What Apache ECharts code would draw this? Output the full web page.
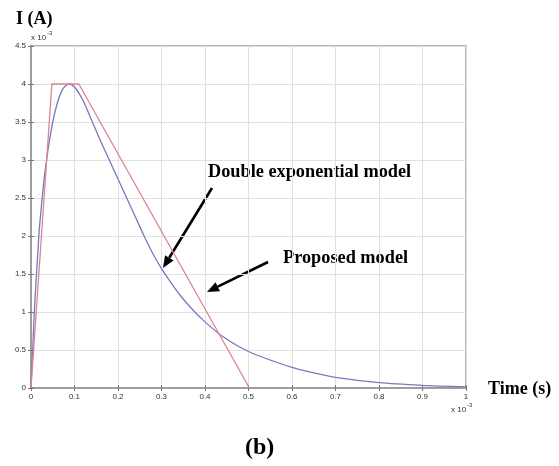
<!DOCTYPE html>
<html>
<head>
<meta charset="utf-8">
<script src="https://cdn.jsdelivr.net/npm/echarts@6/dist/echarts.min.js"></script>
<style>
  html, body { margin: 0; padding: 0; background: #fff; }
  #chart { width: 559px; height: 466px; }
</style>
</head>
<body>
<div id="chart"></div>
<script>
// time in units of 1e-3 s, current in units of 1e-3 A
var xTicks = [0, 0.1, 0.2, 0.3, 0.4, 0.5, 0.6, 0.7, 0.8, 0.9, 1];
var yTicks = [0, 0.5, 1, 1.5, 2, 2.5, 3, 3.5, 4, 4.5];

// double exponential model (blue)
var dblT = [0, 0.005, 0.0076, 0.01, 0.018, 0.02, 0.03, 0.036, 0.04, 0.05, 0.06, 0.07, 0.08, 0.09,
            0.1, 0.11, 0.12, 0.13, 0.141, 0.16, 0.18, 0.2, 0.22, 0.24, 0.26, 0.28, 0.3, 0.32, 0.34,
            0.37, 0.4, 0.44, 0.5, 0.6, 0.65, 0.7, 0.8, 0.9, 1.0];
var dblI = [0, 0.65, 1.0, 1.25, 2.0, 2.15, 2.75, 3.0, 3.17, 3.5, 3.74, 3.9, 3.98, 4.0,
            3.96, 3.88, 3.78, 3.65, 3.5, 3.25, 3.0, 2.75, 2.5, 2.25, 2.0, 1.77, 1.57, 1.4, 1.24,
            1.04, 0.87, 0.68, 0.48, 0.27, 0.2, 0.14, 0.07, 0.035, 0.015];

// proposed model (red)
var propT = [0, 0.048, 0.11, 0.502];
var propI = [0, 4, 4, 0];

function pairs(xs, ys) {
    return xs.map(function (x, i) { return [x, ys[i]]; });
}

var chart = echarts.init(document.getElementById('chart'));

var tickFont = {fontFamily: 'Liberation Sans, Arial', fontSize: 8, color: '#333'};
var labelFont = 'bold 18px "Liberation Serif", "Times New Roman", serif';
var noteFont = 'bold 18.3px "Liberation Serif", "Times New Roman", serif';

function arrow(x1, y1, x2, y2) {
    var dx = x2 - x1, dy = y2 - y1;
    var len = Math.sqrt(dx * dx + dy * dy);
    var ux = dx / len, uy = dy / len;
    var hl = 12, hw = 5;
    var bx = x2 - ux * hl, by = y2 - uy * hl;
    return [
        {type: 'line', shape: {x1: x1, y1: y1, x2: bx, y2: by},
         style: {stroke: '#000', lineWidth: 2.6}},
        {type: 'polygon', shape: {points: [[x2, y2], [bx - uy * hw, by + ux * hw], [bx + uy * hw, by - ux * hw]]},
         style: {fill: '#000'}}
    ];
}

var axisLineStyle = {lineStyle: {color: '#9a9a9a', width: 1.5}};
var tickStyle = {show: true, inside: true, length: 3, lineStyle: {color: '#777'}};
var expLabel = {
    text: '{a|x 10}{b|-3}',
    rich: {
        a: {font: '8px "Liberation Sans"', fill: '#333', verticalAlign: 'bottom'},
        b: {font: '6px "Liberation Sans"', fill: '#333', verticalAlign: 'top', padding: [0, 0, 6, 1]}
    }
};

chart.setOption({
    animation: false,
    backgroundColor: '#fff',
    grid: {left: 31, right: 93, top: 46, bottom: 78, show: true, borderColor: '#9a9a9a', borderWidth: 1.5},
    xAxis: [{
        type: 'value', min: 0, max: 1, interval: 0.1,
        axisLine: axisLineStyle, axisTick: tickStyle,
        axisLabel: Object.assign({margin: 5, formatter: function (v) { return String(+v.toFixed(1)); }}, tickFont),
        splitLine: {show: true, lineStyle: {color: '#e0e0e0', width: 1}}
    }, {
        type: 'value', min: 0, max: 1, interval: 0.1, position: 'top',
        axisLine: axisLineStyle, axisTick: tickStyle,
        axisLabel: {show: false}, splitLine: {show: false}
    }],
    yAxis: [{
        type: 'value', min: 0, max: 4.5, interval: 0.5,
        axisLine: axisLineStyle, axisTick: tickStyle,
        axisLabel: Object.assign({margin: 5, formatter: function (v) { return String(+v.toFixed(1)); }}, tickFont),
        splitLine: {show: true, lineStyle: {color: '#e0e0e0', width: 1}}
    }, {
        type: 'value', min: 0, max: 4.5, interval: 0.5, position: 'right',
        axisLine: axisLineStyle, axisTick: tickStyle,
        axisLabel: {show: false}, splitLine: {show: false}
    }],
    series: [{
        name: 'Double exponential model',
        type: 'line', smooth: 0.25, showSymbol: false,
        data: pairs(dblT, dblI),
        lineStyle: {color: '#7b78bd', width: 1.3}
    }, {
        name: 'Proposed model',
        type: 'line', showSymbol: false,
        data: pairs(propT, propI),
        lineStyle: {color: '#dd8296', width: 1.3}
    }],
    graphic: [
        {type: 'text', left: 16, top: 10, style: {text: 'I (A)', font: labelFont, fill: '#000'}},
        {type: 'text', left: 31, top: 30, style: expLabel},
        {type: 'text', left: 451, top: 402, style: expLabel},
        {type: 'text', left: 208, top: 163, style: {text: 'Double exponential model', font: noteFont, fill: '#000'}},
        {type: 'text', left: 283, top: 249, style: {text: 'Proposed model', font: noteFont, fill: '#000'}},
        {type: 'text', left: 488, top: 380, style: {text: 'Time (s)', font: labelFont, fill: '#000'}},
        {type: 'text', left: 245, top: 436, style: {text: '(b)', font: 'bold 24px "Liberation Serif", "Times New Roman", serif', fill: '#000'}}
    ].concat(arrow(212, 188, 163, 268), arrow(268, 262, 207, 292))
});
</script>
</body>
</html>
